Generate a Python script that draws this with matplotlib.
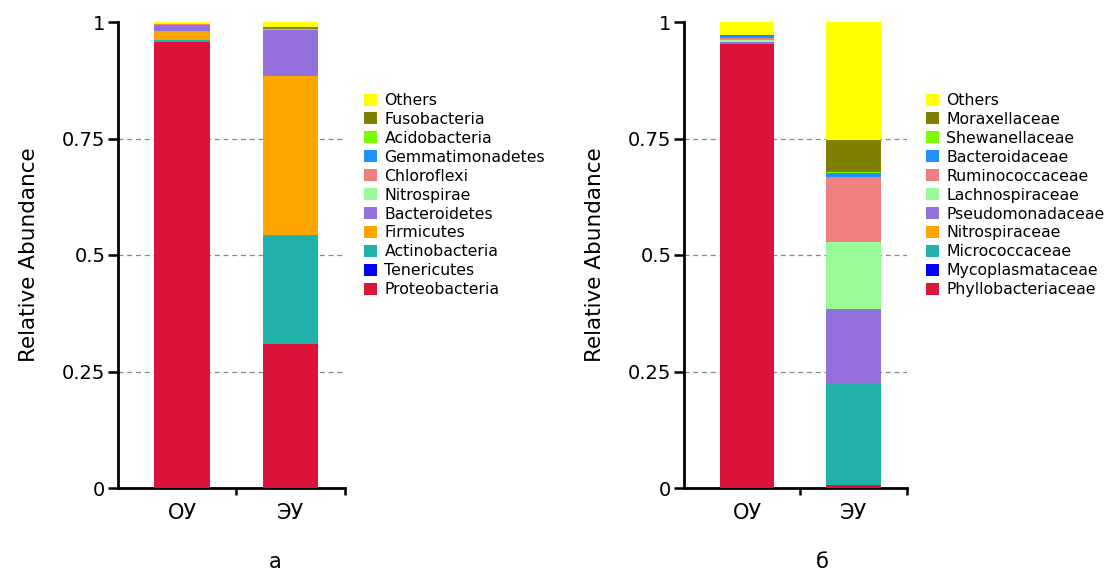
import numpy as np
import matplotlib
matplotlib.use("Agg")
from matplotlib import pyplot as plt
from matplotlib.patches import Patch

groups = ["ОУ", "ЭУ"]

phyla = ["Proteobacteria", "Tenericutes", "Actinobacteria", "Firmicutes", "Bacteroidetes",
         "Nitrospirae", "Chloroflexi", "Gemmatimonadetes", "Acidobacteria", "Fusobacteria", "Others"]
ou_phyla = [0.957, 0.001, 0.004, 0.019, 0.013, 0.0005, 0.0005, 0.0005, 0.0005, 0.0005, 0.0035]
eu_phyla = [0.309, 0.001, 0.232, 0.343, 0.097, 0.0005, 0.0005, 0.0005, 0.001, 0.004, 0.0115]

families = ["Phyllobacteriaceae", "Mycoplasmataceae", "Micrococcaceae", "Nitrospiraceae",
            "Pseudomonadaceae", "Lachnospiraceae", "Ruminococcaceae", "Bacteroidaceae",
            "Shewanellaceae", "Moraxellaceae", "Others"]
ou_fam = [0.952, 0.0, 0.001, 0.0005, 0.004, 0.004, 0.004, 0.005, 0.0005, 0.001, 0.028]
eu_fam = [0.007, 0.0, 0.216, 0.001, 0.161, 0.142, 0.141, 0.008, 0.002, 0.069, 0.253]

colors = ["#DC143C", "#0000FF", "#20B2AA", "#FFA500", "#9370DB", "#98FB98",
          "#F08080", "#1E90FF", "#7CFC00", "#808000", "#FFFF00"]

yticks = [0, 0.25, 0.5, 0.75, 1]
yticklabels = ["0", "0.25", "0.5", "0.75", "1"]

fig = plt.figure(figsize=(11.08, 5.71), dpi=100)
ax1 = fig.add_axes([118/1108, 83/571, 227/1108, 466/571])
ax2 = fig.add_axes([684/1108, 83/571, 223/1108, 466/571])


def draw_panel(ax, names, ou, eu, legend_x, letter, letter_x):
    vals = np.array([ou, eu]).T
    x = np.arange(len(groups))
    bottom = np.zeros(len(groups))
    for i in range(len(names)):
        ax.bar(x, vals[i], 0.51, bottom=bottom, color=colors[i], zorder=3)
        bottom += vals[i]
    for g in [0.25, 0.5, 0.75]:
        ax.axhline(g, color="#888888", lw=0.9, ls=(0, (4, 3)), zorder=1)
    ax.set_xlim(-0.59, 1.5)
    ax.set_ylim(0, 1)
    ax.set_xticks(x)
    ax.set_xticklabels(groups, fontsize=15)
    ax.set_xticks([0.5, 1.5], minor=True)
    ax.tick_params(axis="x", which="major", length=0, pad=11)
    ax.tick_params(axis="x", which="minor", length=5, width=1.8, direction="out")
    ax.set_yticks(yticks)
    ax.set_yticklabels(yticklabels, fontsize=14)
    ax.tick_params(axis="y", length=7, width=1.8, direction="out", pad=2)
    for s in ["top", "right"]:
        ax.spines[s].set_visible(False)
    for s in ["left", "bottom"]:
        ax.spines[s].set_linewidth(2)
    ax.set_ylabel("Relative Abundance", fontsize=15.5, labelpad=17)
    handles = [Patch(facecolor=colors[i], edgecolor="none") for i in range(len(names))]
    fig.legend(handles[::-1], names[::-1], loc="upper left",
               bbox_to_anchor=(legend_x, 1 - 93/571), bbox_transform=fig.transFigure,
               frameon=False, fontsize=11.3, borderpad=0, borderaxespad=0,
               handlelength=0.8, handleheight=0.8, handletextpad=0.5, labelspacing=0.25)
    fig.text(letter_x, 1 - 562/571, letter, fontsize=15, ha="center", va="center")


draw_panel(ax1, phyla, ou_phyla, eu_phyla, 364/1108, "а", 275/1108)
draw_panel(ax2, families, ou_fam, eu_fam, 926/1108, "б", 822/1108)

plt.savefig("out.png", dpi=100)
